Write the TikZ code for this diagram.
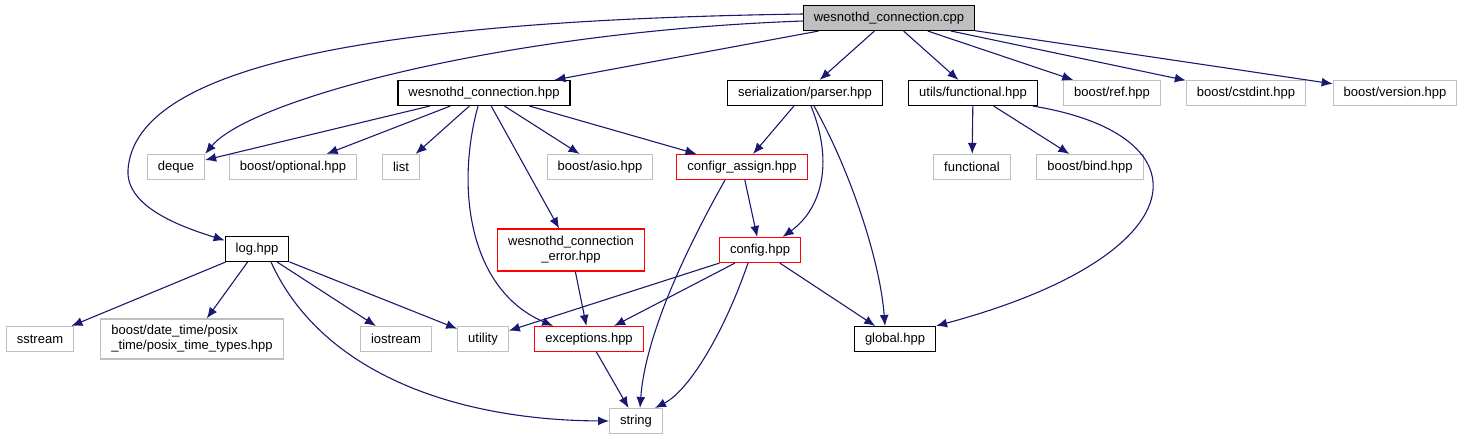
\documentclass[tikz,border=0pt]{standalone}
\usepackage{fontspec}
\setmainfont{Liberation Sans}
\usetikzlibrary{arrows.meta}
\definecolor{edgeblue}{RGB}{25,25,112}
\definecolor{extgray}{RGB}{191,191,191}
\definecolor{rootgray}{RGB}{191,191,191}

\begin{document}
\begin{tikzpicture}[x=1pt,y=-1pt,
    file/.style={rectangle,draw=black,line width=1.1pt,inner xsep=10.5pt,
      inner ysep=0pt,minimum height=25pt,font=\fontsize{13}{15}\selectfont},
    extfile/.style={file,draw=extgray},
    badfile/.style={file,draw=red},
    rootfile/.style={file,fill=rootgray},
    dep/.style={edgeblue,line width=1.1pt,-{Latex[length=11pt,width=9pt]}}]
  \useasboundingbox (0,0) rectangle (1463,440);
  % top: the source file
  \node[rootfile] (cpp) at (889,18) {wesnothd\_connection.cpp};
  % direct includes
  \node[file] (conhpp) at (484,93) {wesnothd\_connection.hpp};
  \node[file] (parser) at (805,93) {serialization/parser.hpp};
  \node[file] (funchpp) at (973,93) {utils/functional.hpp};
  \node[extfile] (ref) at (1112,93) {boost/ref.hpp};
  \node[extfile] (cstdint) at (1246,93) {boost/cstdint.hpp};
  \node[extfile] (version) at (1395,93) {boost/version.hpp};
  % second level
  \node[extfile] (deque) at (176,167) {deque};
  \node[extfile] (optional) at (293,167) {boost/optional.hpp};
  \node[extfile] (list) at (401,167) {list};
  \node[extfile] (asio) at (600,167) {boost/asio.hpp};
  \node[badfile] (assign) at (742,167) {configr\_assign.hpp};
  \node[extfile] (functional) at (972,167) {functional};
  \node[extfile] (bind) at (1090,167) {boost/bind.hpp};
  % third level
  \node[file] (log) at (257,249) {log.hpp};
  \node[badfile,align=center,minimum height=42pt] (conerror) at (571,250)
    {wesnothd\_connection\\\_error.hpp};
  \node[badfile] (config) at (760,250) {config.hpp};
  % fourth level
  \node[extfile] (sstream) at (40,339) {sstream};
  \node[extfile,align=left,minimum height=40pt] (datetime) at (192,339)
    {boost/date\_time/posix\\\_time/posix\_time\_types.hpp};
  \node[extfile] (iostream) at (396,339) {iostream};
  \node[extfile] (utility) at (483,339) {utility};
  \node[badfile] (exceptions) at (589,339) {exceptions.hpp};
  \node[file] (global) at (895,339) {global.hpp};
  % bottom
  \node[extfile] (string) at (636,421) {string};
  % straight includes
  \foreach \a/\b in {cpp/conhpp,cpp/parser,cpp/funchpp,cpp/ref,cpp/cstdint,
      cpp/version,conhpp/deque,conhpp/optional,conhpp/list,conhpp/asio,
      conhpp/assign,conhpp/conerror,parser/assign,funchpp/functional,
      funchpp/bind,assign/config,log/sstream,log/datetime,log/iostream,
      log/utility,conerror/exceptions,config/utility,config/exceptions,
      config/global,exceptions/string}
    \draw[dep] (\a) -- (\b);
  % curved includes
  \draw[dep] ([yshift=-3pt]cpp.west) .. controls (500,32) and (250,100)
    .. (deque.north east);
  \draw[dep] ([yshift=4pt]cpp.west) .. controls (400,20) and (135,60) .. (128,170)
    .. controls (126,205) and (175,225) .. (log.165);
  \draw[dep] ([xshift=-6pt]conhpp.south) .. controls (455,190) and (470,290)
    .. (exceptions.160);
  \draw[dep] ([xshift=6pt]parser.south) .. controls (835,165) and (820,210)
    .. (config.30);
  \draw[dep] ([xshift=9pt]parser.south) .. controls (850,170) and (880,260)
    .. ([xshift=-10pt]global.north);
  \draw[dep] ([xshift=-5pt]funchpp.south east) .. controls (1210,135)
    and (1200,255) .. (global.north east);
  \draw[dep] ([xshift=-17pt]assign.south) .. controls (680,260) and (645,340)
    .. ([xshift=4pt]string.north);
  \draw[dep] ([xshift=-12pt]config.south) .. controls (725,330) and (690,390)
    .. ([xshift=19pt]string.north);
  \draw[dep] ([xshift=14pt]log.south) .. controls (320,370) and (450,420)
    .. (string.west);
\end{tikzpicture}
\end{document}
